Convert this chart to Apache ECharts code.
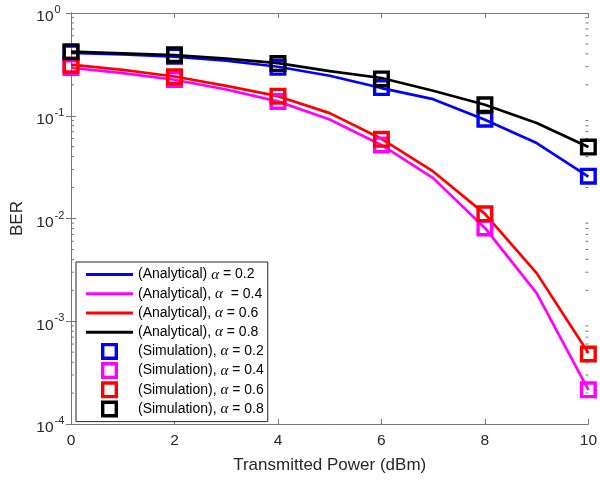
<!DOCTYPE html>
<html>
<head>
<meta charset="utf-8">
<script src="https://cdn.jsdelivr.net/npm/echarts@6/dist/echarts.min.js"></script>
<style>html,body{margin:0;padding:0;background:#fff}#c{width:600px;height:482px}</style>
</head>
<body>
<div id="c"></div>
<script>
const xValues = [0,1,2,3,4,5,6,7,8,9,10];
const anaA02 = [0.41,0.395,0.375,0.343,0.30,0.245,0.186,0.145,0.0914,0.0542,0.0256];
const anaA04 = [0.293,0.26,0.224,0.18,0.138,0.092,0.052,0.0247,0.0081,0.00188,0.000215];
const anaA06 = [0.314,0.28,0.241,0.195,0.155,0.106,0.0597,0.0287,0.0111,0.00294,0.00049];
const anaA08 = [0.42,0.405,0.39,0.36,0.325,0.272,0.233,0.175,0.128,0.085,0.0496];
const simX = [0,2,4,6,8,10];
const simA02 = [0.41,0.38,0.296,0.188,0.0925,0.0258];
const simA04 = [0.295,0.225,0.138,0.052,0.0081,0.000215];
const simA06 = [0.31,0.24,0.155,0.059,0.0111,0.00048];
const simA08 = [0.42,0.393,0.322,0.228,0.128,0.0496];
const xTicks = [0,2,4,6,8,10];
const minorY = [];
for (let k=-4;k<0;k++){ for (let m=2;m<=9;m++){ minorY.push(m*Math.pow(10,k)); } }

const names = ['(Analytical) α = 0.2','(Analytical), α  = 0.4','(Analytical), α = 0.6','(Analytical), α = 0.8',
  '(Simulation), α = 0.2','(Simulation), α = 0.4','(Simulation), α = 0.6','(Simulation), α = 0.8'];
const colors = ['#0000ff','#ff00ff','#ff0000','#000000'];
const anas = [anaA02,anaA04,anaA06,anaA08];
const sims = [simA02,simA04,simA06,simA08];
const ring = 'path://M0,0H10V10H0ZM2,2V8H8V2Z';
const bar = 'path://M0,0H47V3H0Z';

const series = [];
anas.forEach((arr,i)=>{
  series.push({name:names[i], type:'line', data: xValues.map((x,j)=>[x,arr[j]]), symbol:'none',
    lineStyle:{color:colors[i], width:2.7}, itemStyle:{color:colors[i]}, z:2, animation:false});
});
sims.forEach((arr,i)=>{
  series.push({name:names[4+i], type:'scatter', data: simX.map((x,j)=>[x,arr[j]]), symbol:ring, symbolSize:17,
    itemStyle:{color:colors[i], opacity:1}, z:3, animation:false});
});
series.push({type:'custom', silent:true, z:1, animation:false, clip:false,
  data: minorY.map(v=>[0,v]),
  renderItem:function(params, api){
    const v = api.value(1);
    const l = api.coord([0, v]);
    const r = api.coord([10, v]);
    const st = {stroke:'#777', lineWidth:1};
    return {type:'group', children:[
      {type:'line', shape:{x1:l[0], y1:l[1], x2:l[0]+3, y2:l[1]}, style:st},
      {type:'line', shape:{x1:r[0]-3, y1:r[1], x2:r[0], y2:r[1]}, style:st}
    ]};
  }});

const axisCol = '#777';
const labCol = '#262626';
const font = 'Liberation Sans, Arial, Helvetica, sans-serif';
const chart = echarts.init(document.getElementById('c'), null, {renderer:'canvas'});
chart.setOption({
  animation:false,
  backgroundColor:'#fff',
  grid:{left:71, right:8, top:13, bottom:58},
  xAxis:[
    {type:'value', min:0, max:10, interval:2, position:'bottom',
      name:'Transmitted Power (dBm)', nameLocation:'middle', nameGap:33,
      nameTextStyle:{fontSize:17, color:labCol, fontFamily:font},
      axisLine:{show:true, onZero:false, lineStyle:{color:axisCol, width:1}},
      axisTick:{show:true, inside:true, length:5, lineStyle:{color:axisCol}},
      axisLabel:{fontSize:15.5, color:labCol, fontFamily:font, margin:9},
      splitLine:{show:false}},
    {type:'value', min:0, max:10, interval:2, position:'top',
      axisLine:{show:true, onZero:false, lineStyle:{color:axisCol, width:1}},
      axisTick:{show:true, inside:true, length:5, lineStyle:{color:axisCol}},
      axisLabel:{show:false}, splitLine:{show:false}}
  ],
  yAxis:[
    {type:'log', logBase:10, min:1e-4, max:1, position:'left',
      name:'BER', nameLocation:'middle', nameGap:43,
      nameTextStyle:{fontSize:17, color:labCol, fontFamily:font},
      axisLine:{show:true, lineStyle:{color:axisCol, width:1}},
      axisTick:{show:true, inside:true, length:5, lineStyle:{color:axisCol}},
      axisLabel:{color:labCol, fontFamily:font, fontSize:15.5, margin:17.5, align:'right',
        verticalAlign:'top', lineHeight:8,
        formatter:function(v){ return '10'; }},
      splitLine:{show:false}},
    {type:'log', logBase:10, min:1e-4, max:1, position:'right',
      axisLine:{show:true, lineStyle:{color:axisCol, width:1}},
      axisTick:{show:true, inside:true, length:5, lineStyle:{color:axisCol}},
      axisLabel:{show:false}, splitLine:{show:false}},
    {type:'log', logBase:10, min:1e-4, max:1, position:'left',
      axisLine:{show:false}, axisTick:{show:false}, splitLine:{show:false},
      axisLabel:{color:labCol, fontFamily:font, fontSize:11, margin:16.5, align:'left',
        verticalAlign:'bottom', lineHeight:6,
        formatter:function(v){ return String(Math.round(Math.log10(v))); }}}
  ],
  legend:{
    orient:'vertical', left:76, top:262, data: names.map((n,i)=>{
      if (i<4) return {name:n, icon:bar, itemStyle:{color:colors[i]}};
      return {name:n, icon:ring, itemStyle:{color:colors[i-4]}};
    }),
    itemWidth:47, itemHeight:17, itemGap:0, padding:[3,4,3,10],
    backgroundColor:'#fff', borderColor:'#262626', borderWidth:1, borderRadius:0,
    selectedMode:false, symbolKeepAspect:true,
    textStyle:{fontSize:14, color:'#000', fontFamily:font, lineHeight:19.2,
      rich:{a:{fontFamily:'Liberation Serif, Times New Roman, serif', fontStyle:'italic', fontSize:15, color:'#000', lineHeight:19.2}}},
    formatter:function(n){ return n.replace('α','{a|α}'); }
  },
  series: series
});
</script>
</body>
</html>
